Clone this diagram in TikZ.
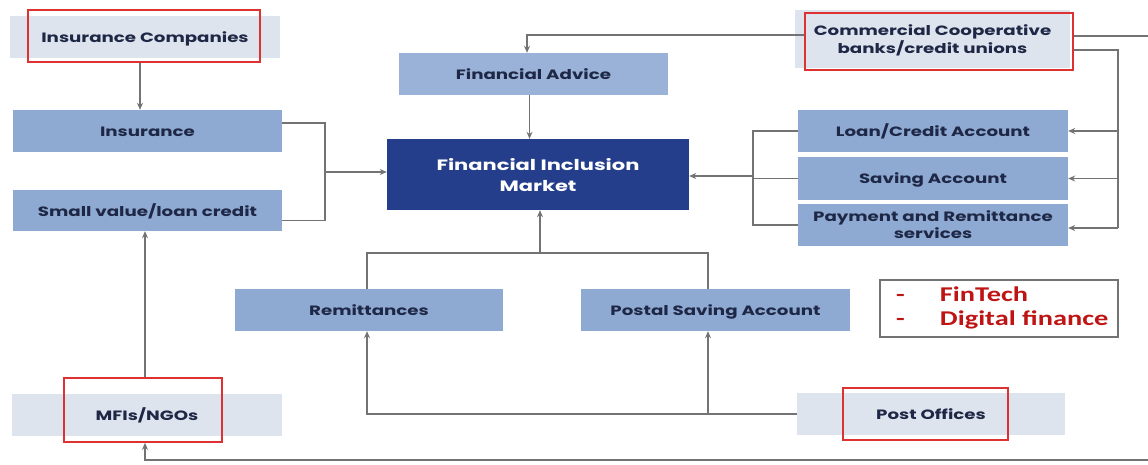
\documentclass[tikz,border=0pt]{standalone}
\usepackage{fontspec}
\usepackage{graphicx}
\setmainfont{Poppins}
\newfontfamily\calfont{Carlito}
\usetikzlibrary{arrows.meta,calc}
\definecolor{boxblue}{RGB}{143,170,210}
\definecolor{liteblue}{RGB}{221,228,238}
\definecolor{darkblue}{RGB}{36,62,140}
\definecolor{navy}{RGB}{30,40,70}
\definecolor{redline}{RGB}{222,50,50}
\definecolor{lngrey}{RGB}{115,115,115}
\definecolor{ftred}{RGB}{190,20,20}
\newcommand\wtext[2][1.35]{\raisebox{-2pt}[\height][\depth]{\scalebox{#1}[1]{\begin{tabular}{@{}c@{}}#2\end{tabular}}}}
\newcommand\wltext[2][1.35]{\scalebox{#1}[1]{\begin{tabular}{@{}l@{}}#2\end{tabular}}}
\tikzset{
  bbox/.style={fill=boxblue, draw=none, text=navy, font=\fontsize{13.5}{17}\selectfont\bfseries, align=center, inner sep=0pt},
  lbox/.style={fill=liteblue, draw=none, text=navy, font=\fontsize{13.5}{17}\selectfont\bfseries, align=center, inner sep=0pt},
  rframe/.style={draw=redline, line width=1.6pt, fill=none, inner sep=0pt},
  ln/.style={draw=lngrey, line width=1.3pt},
  arr/.style={ln, -{Stealth[length=7pt,width=6pt]}},
}
\begin{document}
\begin{tikzpicture}[x=1pt,y=-1pt]
\useasboundingbox (0,0) rectangle (1148,464);
% left column
\node[lbox, minimum width=270pt, minimum height=42pt] (icb) at (145,37) {\wtext{Insurance Companies}};
\node[rframe, minimum width=232pt, minimum height=52pt] (icr) at (144,36) {};
\node[bbox, minimum width=269pt, minimum height=42pt] (ins) at (147.5,131) {\wtext{Insurance}};
\node[bbox, minimum width=269pt, minimum height=41pt] (small) at (147.5,210.5) {\wtext{Small value/loan credit}};
\node[lbox, minimum width=270pt, minimum height=42pt] (mfb) at (147,415) {\wtext{MFIs/NGOs}};
\node[rframe, minimum width=158pt, minimum height=64pt] (mfr) at (143,410) {};
% centre
\node[bbox, fill=boxblue!90!white, minimum width=269pt, minimum height=42pt] (fa) at (533.5,74) {\wtext{Financial Advice}};
\node[fill=darkblue, text=white, font=\fontsize{15}{21}\selectfont\bfseries, align=center, minimum width=302pt, minimum height=71pt, inner sep=0pt] (fim) at (538,174.5) {\wtext[1.4]{Financial Inclusion\\Market}};
\node[bbox, minimum width=268pt, minimum height=42pt] (rem) at (369,310) {\wtext{Remittances}};
\node[bbox, minimum width=269pt, minimum height=42pt] (postal) at (715.5,310) {\wtext{Postal Saving Account}};
% right column
\node[lbox, minimum width=275pt, minimum height=58pt] (cb) at (932.5,39) {\wtext{Commercial Cooperative\\banks/credit unions}};
\node[rframe, minimum width=268pt, minimum height=57pt] (cr) at (939,41.5) {};
\node[bbox, minimum width=270pt, minimum height=42pt] (loan) at (933,131) {\wtext{Loan/Credit Account}};
\node[bbox, minimum width=270pt, minimum height=43pt] (sav) at (933,178.5) {\wtext{Saving Account}};
\node[bbox, minimum width=270pt, minimum height=42pt] (pay) at (933,225) {\wtext{Payment and Remittance\\services}};
\node[lbox, minimum width=268pt, minimum height=42pt] (pob) at (931,414) {\wtext{Post Offices}};
\node[rframe, minimum width=165pt, minimum height=52pt] (por) at (925.5,414) {};
\node[draw=lngrey, line width=1.2pt, minimum width=238pt, minimum height=57pt, inner sep=0pt] (ft) at (999,308.5) {};
\node[anchor=west, text=ftred, font=\calfont\fontsize{21}{24}\selectfont\bfseries, inner sep=0pt] (ftt) at (896,309) {\wltext{-\hspace{26pt}FinTech\\-\hspace{26pt}Digital finance}};
% connectors
\coordinate (br1) at (325,172);
\coordinate (lb) at (753,176);
\coordinate (rb) at (1118,228);
\coordinate (bj) at (540,253);
\draw[arr] (icr.south -| 140,0) -- (140,0 |- ins.north);
\draw[ln] ([yshift=8pt]ins.east) -| (br1) |- ([yshift=-10pt]small.east);
\draw[arr] (br1) -- (br1 -| fim.west);
\draw[arr] ([xshift=-4pt]fa.south) -- ([xshift=-4pt]fa.south |- fim.north);
\draw[arr] (cr.west |- 0,35) -| ([xshift=-6.5pt]fa.north);
\draw[ln] ([yshift=-8.5pt]cr.east) -| (rb);
\draw[arr] (loan.east -| rb) -- (loan.east);
\draw[arr] (sav.east -| rb) -- (sav.east);
\draw[arr] (rb) -- (rb -| pay.east);
\draw[ln] (loan.west) -| (lb) |- (pay.west);
\draw[ln] (sav.west) -- (sav.west -| lb);
\draw[arr] (lb) -- (lb -| fim.east);
\draw[arr] (bj) -- (bj |- fim.south);
\draw[ln] ([xshift=-2pt]rem.north) |- (bj) -| ([xshift=-7.5pt]postal.north);
\draw[arr] (pob.west) -| ([xshift=-2pt]rem.south);
\draw[arr] ([xshift=-7.5pt]postal.south |- pob.west) -- ([xshift=-7.5pt]postal.south);
\draw[arr] (mfr.north -| 145,0) -- (145,0 |- small.south);
\draw[arr] (cr.east |- 0,36) -- (1170,36) -- (1170,460) -| (145,0 |- mfr.south);
\end{tikzpicture}
\end{document}
